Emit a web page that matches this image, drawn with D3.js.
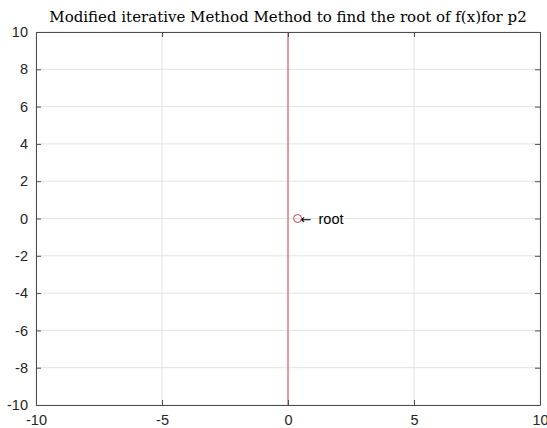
<!DOCTYPE html>
<html>
<head>
<meta charset="utf-8">
<script src="https://cdn.jsdelivr.net/npm/d3@7"></script>
<style>
  body { margin: 0; background: #fff; }
  text { font-family: "Liberation Sans", Arial, sans-serif; }
</style>
</head>
<body>
<svg id="chart" width="547" height="428"></svg>
<script>
// data
const xDomain = [-10, 10];
const yDomain = [-10, 10];
const xTicks = [-10, -5, 0, 5, 10];
const yTicks = [-10, -8, -6, -4, -2, 0, 2, 4, 6, 8, 10];
const curveX = [0, 0];
const curveY = [-10, 10];
const rootX = [0.38];
const rootY = [0];
const titleText = 'Modified iterative Method Method to find the root of f(x)for p2';

const margin = { top: 32, left: 36, bottom: 23, right: 7 };
const width = 547 - margin.left - margin.right;
const height = 428 - margin.top - margin.bottom;

const svg = d3.select('#chart');
const chart = svg.append('g')
    .attr('transform', `translate(${margin.left}, ${margin.top})`);

const x = d3.scaleLinear().domain(xDomain).range([0, width]);
const y = d3.scaleLinear().domain(yDomain).range([height, 0]);

// grid
chart.append('g')
    .selectAll('line')
    .data(xTicks)
    .enter()
    .append('line')
    .attr('x1', (d) => x(d)).attr('x2', (d) => x(d))
    .attr('y1', 0).attr('y2', height)
    .attr('stroke', '#e3e3e3');

chart.append('g')
    .selectAll('line')
    .data(yTicks)
    .enter()
    .append('line')
    .attr('y1', (d) => y(d)).attr('y2', (d) => y(d))
    .attr('x1', 0).attr('x2', width)
    .attr('stroke', '#e3e3e3');

// the plotted function
const line = d3.line()
    .x((d, i) => x(curveX[i]))
    .y((d, i) => y(curveY[i]));

chart.append('path')
    .datum(curveX)
    .attr('d', line)
    .attr('fill', 'none')
    .attr('stroke', '#d9434a')
    .attr('stroke-width', 1);

// root marker
chart.selectAll('.root')
    .data(rootX)
    .enter()
    .append('circle')
    .attr('class', 'root')
    .attr('cx', (d) => x(d))
    .attr('cy', (d, i) => y(rootY[i]))
    .attr('r', 4)
    .attr('fill', 'none')
    .attr('stroke', '#c9403f')
    .attr('stroke-width', 1);

const label = chart.selectAll('.rootlabel')
    .data(rootX)
    .enter()
    .append('text')
    .attr('class', 'rootlabel')
    .attr('x', (d) => x(d) + 3)
    .attr('y', (d, i) => y(rootY[i]))
    .attr('dy', '0.35em')
    .attr('font-size', 14.5)
    .attr('fill', '#000');
label.append('tspan').style('font-family', '"DejaVu Sans", sans-serif').attr('font-size', 13).text('\u2190');
label.append('tspan').attr('dx', 3).text(' root');

// axes, ticks pointing inward, box on
const tickLen = 5;
const bottomAxis = d3.axisBottom(x).tickValues(xTicks).tickSizeInner(-tickLen).tickSizeOuter(0).tickPadding(10);
const topAxis = d3.axisTop(x).tickValues(xTicks).tickSizeInner(-tickLen).tickSizeOuter(0).tickFormat('');
const leftAxis = d3.axisLeft(y).tickValues(yTicks).tickSizeInner(-tickLen).tickSizeOuter(0).tickPadding(8);
const rightAxis = d3.axisRight(y).tickValues(yTicks).tickSizeInner(-tickLen).tickSizeOuter(0).tickFormat('');

chart.append('g').attr('transform', `translate(0, ${height})`).call(bottomAxis.tickFormat(String));
chart.append('g').call(topAxis);
chart.append('g').call(leftAxis.tickFormat(String));
chart.append('g').attr('transform', `translate(${width}, 0)`).call(rightAxis);

chart.selectAll('.domain, .tick line').attr('stroke', '#4d4d4d');
chart.selectAll('.tick text')
    .attr('font-family', '"Liberation Sans", Arial, sans-serif')
    .attr('font-size', 14.5)
    .attr('fill', '#262626');

// title
svg.append('text')
    .attr('x', margin.left + width / 2)
    .attr('y', 22)
    .attr('text-anchor', 'middle')
    .style('font-family', '"DejaVu Serif", serif')
    .attr('font-size', 15)
    .attr('fill', '#000')
    .text(titleText);
</script>
</body>
</html>
